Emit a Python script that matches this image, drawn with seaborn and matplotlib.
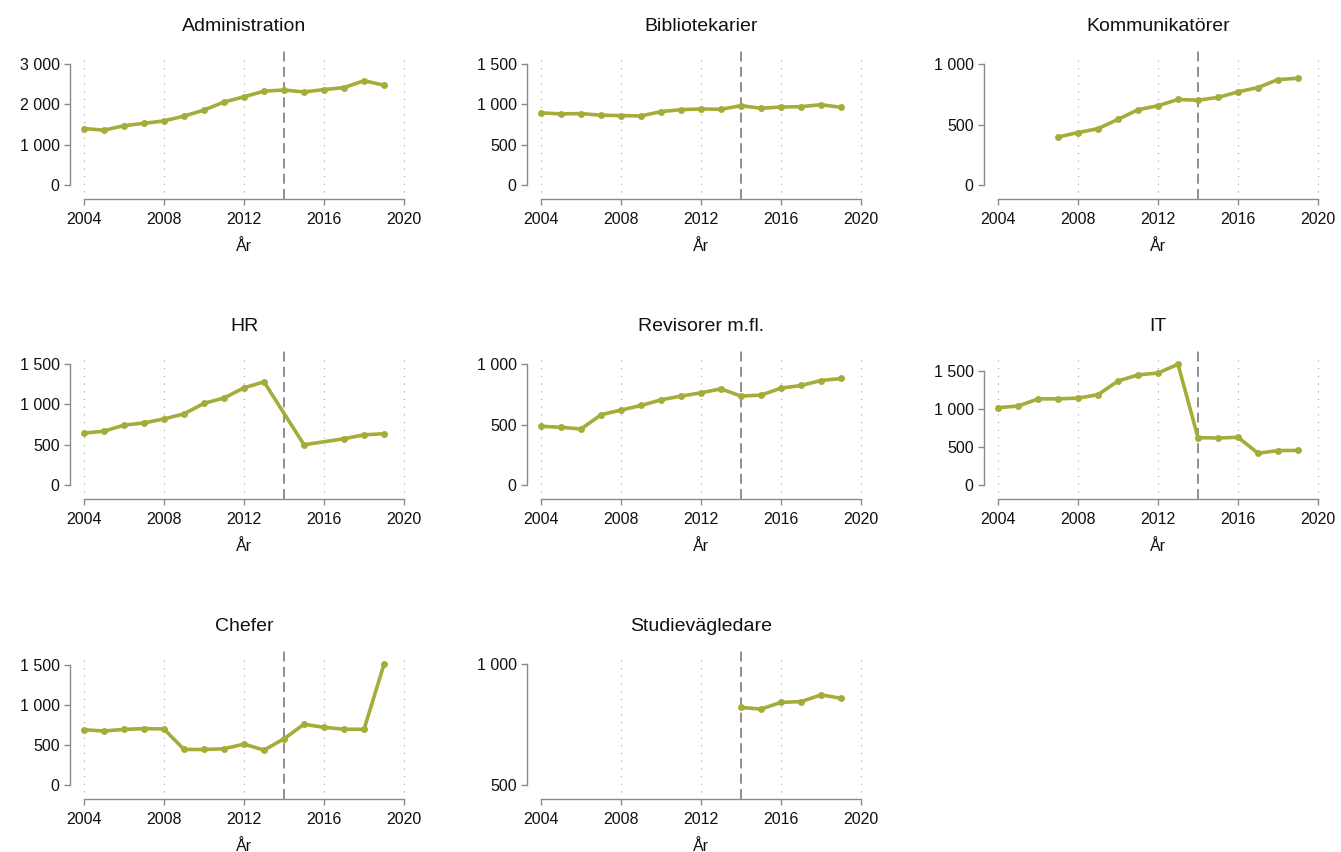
import matplotlib
matplotlib.use("Agg")
import matplotlib.pyplot as plt
from matplotlib.ticker import FixedLocator, FuncFormatter
import pandas as pd
import seaborn as sns

# ---- data: number employed per occupational group and year ----
groups = ["Administration", "Bibliotekarier", "Kommunikatörer",
          "HR", "Revisorer m.fl.", "IT",
          "Chefer", "Studievägledare"]

years_all = list(range(2004, 2020))

administration = [1400, 1360, 1470, 1530, 1590, 1710, 1860, 2060,
                  2190, 2330, 2360, 2310, 2370, 2420, 2590, 2480]
bibliotekarier = [895, 882, 886, 866, 861, 857, 911, 935,
                  944, 940, 985, 952, 968, 972, 997, 964]
years_komm = list(range(2007, 2020))
kommunikatorer = [397, 433, 466, 543, 623, 656, 708, 702, 725, 771, 807, 873, 884]
years_hr = [2004, 2005, 2006, 2007, 2008, 2009, 2010, 2011, 2012, 2013,
            2015, 2017, 2018, 2019]
hr = [643, 667, 742, 770, 820, 882, 1014, 1080, 1207, 1281, 498, 573, 622, 635]
revisorer = [485, 477, 463, 581, 620, 658, 705, 736,
             763, 796, 736, 744, 802, 824, 865, 882]
it = [1015, 1035, 1130, 1130, 1140, 1185, 1365, 1445,
      1470, 1585, 620, 615, 625, 415, 450, 452]
chefer = [690, 675, 695, 705, 700, 443, 443, 452,
          510, 435, 577, 760, 720, 698, 695, 1512]
years_stud = list(range(2014, 2020))
studievagledare = [821, 814, 842, 845, 873, 859]

series = {
    "Administration": (years_all, administration),
    "Bibliotekarier": (years_all, bibliotekarier),
    "Kommunikatörer": (years_komm, kommunikatorer),
    "HR": (years_hr, hr),
    "Revisorer m.fl.": (years_all, revisorer),
    "IT": (years_all, it),
    "Chefer": (years_all, chefer),
    "Studievägledare": (years_stud, studievagledare),
}

y_ticks = {
    "Administration": [0, 1000, 2000, 3000],
    "Bibliotekarier": [0, 500, 1000, 1500],
    "Kommunikatörer": [0, 500, 1000],
    "HR": [0, 500, 1000, 1500],
    "Revisorer m.fl.": [0, 500, 1000],
    "IT": [0, 500, 1000, 1500],
    "Chefer": [0, 500, 1000, 1500],
    "Studievägledare": [500, 1000],
}
x_ticks = [2004, 2008, 2012, 2016, 2020]
reform_year = 2014

rows = []
for g in groups:
    xs, ys = series[g]
    for x, y in zip(xs, ys):
        rows.append({"Yrke": g, "År": x, "Antal": y})
df = pd.DataFrame(rows)

# ---- style ----
sns.set_theme(style="white")
plt.rcParams["font.family"] = ["Liberation Sans", "DejaVu Sans"]

LINE = "#a4ad3a"
AXIS = "#8a8a8a"
TEXT = "#111111"

W, H = 1341, 852
fig = plt.figure(figsize=(W / 100, H / 100), dpi=100)
fig.patch.set_facecolor("white")

col_left = [84, 541, 998]
row_top = [55, 355, 655]
ax_w, ax_h = 320, 137


def thousands(v, _pos):
    return f"{v:,.0f}".replace(",", " ")


for i, g in enumerate(groups):
    r, c = divmod(i, 3)
    ax = fig.add_axes([col_left[c] / W, (H - row_top[r] - ax_h) / H,
                       ax_w / W, ax_h / H])
    sub = df[df["Yrke"] == g]

    # dotted vertical guides at the year ticks
    first_year = sub["År"].min()
    for xv in x_ticks:
        if xv == x_ticks[0] and first_year > xv:
            continue
        ax.axvline(xv, color="#9a9a9a", lw=0.75, ls=(0, (1, 6.4)), zorder=0)

    sns.lineplot(data=sub, x="År", y="Antal", ax=ax, color=LINE,
                 linewidth=2.6, marker="o", markersize=5,
                 markeredgewidth=0, estimator=None, sort=True, zorder=3)
    for ln in ax.lines:
        ln.set_clip_on(False)

    # dashed marker line for the reform year
    trans = ax.get_xaxis_transform()
    ax.plot([reform_year, reform_year], [-7 / ax_h, 1 + 4 / ax_h],
            transform=trans, color="#707070", lw=1.1, ls=(0, (6.5, 3.5)),
            clip_on=False, zorder=2)

    ticks = y_ticks[g]
    vals = sub["Antal"]
    lo = min(ticks[0], vals.min())
    hi = max(ticks[-1], vals.max())
    rng = hi - lo
    ax.set_ylim(lo - 0.06 * rng, hi + 0.077 * rng)
    ax.set_xlim(2004, 2020)

    ax.yaxis.set_major_locator(FixedLocator(ticks))
    ax.yaxis.set_major_formatter(FuncFormatter(thousands))
    ax.xaxis.set_major_locator(FixedLocator(x_ticks))

    for side in ("top", "right"):
        ax.spines[side].set_visible(False)
    ax.spines["left"].set_position(("outward", 10.08))
    ax.spines["bottom"].set_position(("outward", 5.04))
    ax.spines["left"].set_bounds(ticks[0], ticks[-1])
    ax.spines["bottom"].set_bounds(2004, 2020)
    for side in ("left", "bottom"):
        ax.spines[side].set_color(AXIS)
        ax.spines[side].set_linewidth(1.0)

    ax.tick_params(axis="both", bottom=True, left=True, length=4.5, width=1.0,
                   color=AXIS, labelsize=11.5, labelcolor=TEXT)
    ax.tick_params(axis="y", pad=3)
    ax.tick_params(axis="x", pad=4.5)
    ax.grid(False)
    ax.set_facecolor("none")
    ax.set_ylabel("")
    ax.set_xlabel("År", fontsize=11.5, color=TEXT, labelpad=9)
    ax.set_title(g, fontsize=14, color=TEXT, pad=17)

fig.savefig("out.png", dpi=100)
